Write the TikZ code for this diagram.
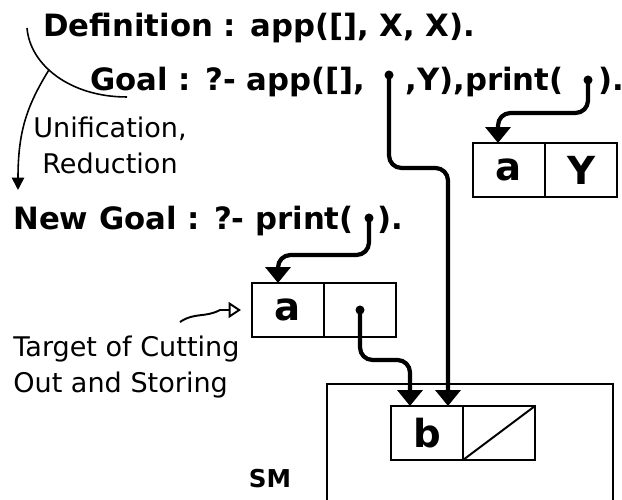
\documentclass[tikz,border=0pt]{standalone}
\usepackage{fontspec}
\setmainfont{DejaVu Sans}
\usetikzlibrary{arrows.meta}

\begin{document}
\begin{tikzpicture}[
  line/.style={font=\bfseries\fontsize{17.5}{21}\selectfont,
    inner sep=0pt, anchor=base west},
  note/.style={font=\fontsize{15.4}{20.5}\selectfont, inner sep=0pt},
  cell/.style={draw, line width=1.1pt, minimum width=1.44cm,
    minimum height=1.08cm, inner sep=0pt, outer sep=0pt,
    font=\bfseries\fontsize{22}{22}\selectfont},
  dot/.style={circle, fill, inner sep=0pt, minimum size=0.18cm},
  ptr/.style={line width=2.4pt, rounded corners=0.25cm,
    -{Triangle[width=14pt,length=9pt]}},
  thinarrow/.style={line width=0.9pt, -{Triangle[width=7pt,length=7pt]}}
]
  \useasboundingbox (0,0) rectangle (12.44,-10);

  \node[line] (def) at (0.86,-0.74) {Definition : app([], X, X).};
  \node[line] (goalA) at (1.80,-1.82) {Goal : ?- app([],};
  \node[dot] (dot1) at (7.78,-1.50) {};
  \node[line] (goalB) at (8.10,-1.82) {,Y),print(};
  \node[dot] (dot2) at (11.76,-1.60) {};
  \node[line] (goalC) at (11.96,-1.82) {).};
  \node[line] (newgoal) at (0.26,-4.60) {New Goal : ?- print(};
  \node[dot] (dot3) at (7.38,-4.36) {};
  \node[line] (newgoalC) at (7.54,-4.60) {).};

  \node[note, align=center] (unif) at (2.20,-2.90)
    {Unification,\\Reduction};
  \node[note, align=left, anchor=west] (target) at (0.26,-7.34)
    {Target of Cutting\\Out and Storing};

  \node[cell] (aY1) at (10.18,-3.40) {a};
  \node[cell, anchor=west] (aY2) at (aY1.east) {Y};
  \node[cell] (a1) at (5.76,-6.20) {a};
  \node[cell, anchor=west] (a2) at (a1.east) {};
  \node[dot] (dot4) at (a2.center) {};
  \node[cell] (b1) at (8.54,-8.66) {b};
  \node[cell, anchor=west] (b2) at (b1.east) {};
  \draw[line width=1.1pt] (b2.south west) -- (b2.north east);

  \draw[line width=1.1pt] (6.54,-10) |- (12.26,-7.68) -- (12.26,-10);
  \node[font=\bfseries\fontsize{14}{14}\selectfont] (sm) at (5.40,-9.58)
    {SM};

  \coordinate (brtop) at (0.54,-0.56);
  \coordinate (brend) at (2.54,-1.94);
  \coordinate (brtip) at (0.36,-3.80);
  \draw[line width=0.9pt] (brtop) .. controls (0.6,-1.3) and (1.4,-1.94)
    .. (brend) coordinate[pos=0.42] (fork);
  \draw[thinarrow] (fork) .. controls (0.55,-2.1) and (0.36,-2.6)
    .. (brtip);

  \coordinate (p1turn) at (9.96,-2.26);
  \coordinate (p2turn) at (5.56,-5.10);
  \coordinate (p3turn) at (8.20,-7.20);
  \coordinate (p4turn) at (8.96,-3.36);
  \draw[ptr] (dot2.center) |- (p1turn) -- (p1turn |- aY1.north);
  \draw[ptr] (dot3.center) |- (p2turn) -- (p2turn |- a1.north);
  \draw[ptr] (dot4.center) |- (p3turn) -- (p3turn |- b1.north);
  \draw[ptr] (dot1.center) |- (p4turn) -- (p4turn |- b1.north);

  \coordinate (tgtstart) at (3.60,-6.44);
  \draw[line width=1.1pt, -{Triangle[open,width=9pt,length=7pt]}]
    (tgtstart) .. controls (3.9,-6.24) and (4.1,-6.36) .. (4.4,-6.2)
    -- ([xshift=-0.22cm]a1.west);
\end{tikzpicture}
\end{document}
